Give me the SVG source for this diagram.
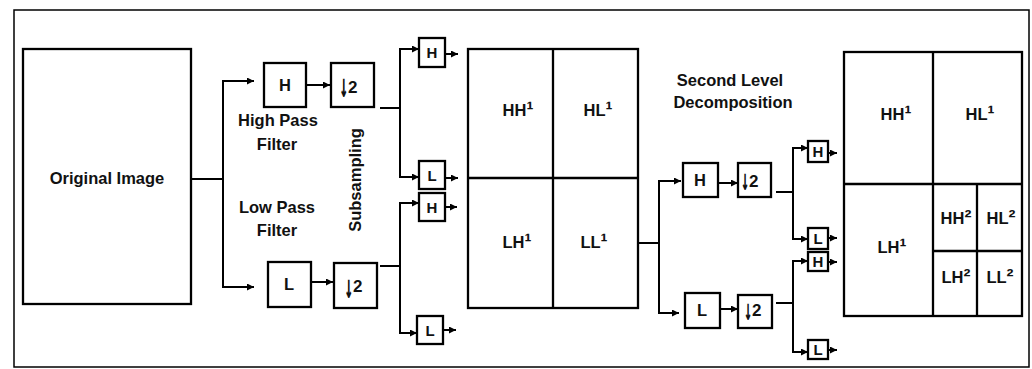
<svg xmlns="http://www.w3.org/2000/svg" width="1032" height="369" viewBox="0 0 1032 369">
  <defs>
    <marker id="arrow" markerUnits="userSpaceOnUse" markerWidth="8" markerHeight="8" refX="7" refY="3.5" orient="auto">
      <path d="M0,0 L7,3.5 L0,7 z" fill="#000"/>
    </marker>
    <style>
      .box { fill: #fff; stroke: #000; stroke-width: 2.3; }
      .cell { fill: none; stroke: #000; stroke-width: 2.3; }
      .wire { fill: none; stroke: #000; stroke-width: 2; }
      .arr { fill: none; stroke: #000; stroke-width: 2; marker-end: url(#arrow); }
      .lbl { font-family: "Liberation Sans", Arial, sans-serif; font-weight: bold; font-size: 16.5px; fill: #111; text-anchor: middle; }
      .sm { font-size: 15px; }
      .sup { font-size: 21px; }
      .two { font-family: "Liberation Sans", Arial, sans-serif; font-weight: bold; font-size: 17px; fill: #111; }
      .dn { font-family: "DejaVu Sans Mono", monospace; font-weight: bold; font-size: 19px; fill: #111; text-anchor: end; }
    </style>
  </defs>

  <rect x="0" y="0" width="1032" height="369" fill="#fff"/>
  <!-- outer frame -->
  <rect x="14" y="10" width="1015" height="357" fill="none" stroke="#000" stroke-width="1.5"/>

  <!-- source image -->
  <g id="original">
    <rect class="box" x="23" y="49" width="168" height="255"/>
    <text class="lbl" x="107" y="184">Original Image</text>
  </g>

  <!-- first level filters -->
  <g id="hpf1">
    <rect class="box" x="264" y="63" width="42" height="44"/>
    <text class="lbl" x="285" y="91">H</text>
  </g>
  <g id="ds1h">
    <rect class="box" x="331" y="63" width="43" height="44"/>
    <text class="dn" transform="translate(348,97) scale(0.75,1.8)">↓</text>
    <text class="two" x="348" y="93">2</text>
  </g>
  <g id="lpf1">
    <rect class="box" x="268" y="262" width="43" height="45"/>
    <text class="lbl" x="289" y="290">L</text>
  </g>
  <g id="ds1l">
    <rect class="box" x="334" y="263" width="43" height="45"/>
    <text class="dn" transform="translate(353,298) scale(0.75,1.8)">↓</text>
    <text class="two" x="353" y="292">2</text>
  </g>
  <g id="labels1">
    <text class="lbl" x="278" y="126">High Pass</text>
    <text class="lbl" x="277" y="150">Filter</text>
    <text class="lbl" x="277" y="213">Low Pass</text>
    <text class="lbl" x="277" y="236">Filter</text>
    <text class="lbl" transform="translate(361,180) rotate(-90)">Subsampling</text>
  </g>

  <!-- first level outputs -->
  <g id="out1hh">
    <rect class="box" x="419" y="38" width="26" height="29"/>
    <text class="lbl sm" x="432" y="58">H</text>
  </g>
  <g id="out1hl">
    <rect class="box" x="419" y="161" width="26" height="28"/>
    <text class="lbl sm" x="432" y="181">L</text>
  </g>
  <g id="out1lh">
    <rect class="box" x="419" y="193" width="26" height="28"/>
    <text class="lbl sm" x="432" y="213">H</text>
  </g>
  <g id="out1ll">
    <rect class="box" x="417" y="316" width="26" height="28"/>
    <text class="lbl sm" x="430" y="336">L</text>
  </g>

  <!-- first level decomposition -->
  <g id="level1">
    <rect class="cell" x="468" y="49" width="170" height="259"/>
    <line class="cell" x1="553" y1="49" x2="553" y2="308"/>
    <line class="cell" x1="468" y1="178" x2="638" y2="178"/>
    <text class="lbl" x="518" y="116">HH<tspan class="sup">¹</tspan></text>
    <text class="lbl" x="598" y="116">HL<tspan class="sup">¹</tspan></text>
    <text class="lbl" x="517" y="248">LH<tspan class="sup">¹</tspan></text>
    <text class="lbl" x="594" y="248">LL<tspan class="sup">¹</tspan></text>
  </g>

  <g id="title2">
    <text class="lbl" x="730" y="86">Second Level</text>
    <text class="lbl" x="733" y="108">Decomposition</text>
  </g>

  <!-- second level filters -->
  <g id="hpf2">
    <rect class="box" x="683" y="163" width="35" height="34"/>
    <text class="lbl" x="700" y="186">H</text>
  </g>
  <g id="ds2h">
    <rect class="box" x="738" y="163" width="33" height="34"/>
    <text class="dn" transform="translate(749,190) scale(0.7,1.6)">↓</text>
    <text class="two" x="749" y="187">2</text>
  </g>
  <g id="lpf2">
    <rect class="box" x="685" y="293" width="35" height="35"/>
    <text class="lbl" x="702" y="316">L</text>
  </g>
  <g id="ds2l">
    <rect class="box" x="738" y="295" width="34" height="33"/>
    <text class="dn" transform="translate(752,320) scale(0.7,1.6)">↓</text>
    <text class="two" x="752" y="316">2</text>
  </g>

  <!-- second level outputs -->
  <g id="out2hh">
    <rect class="box" x="808" y="141" width="20" height="21"/>
    <text class="lbl sm" x="818" y="157">H</text>
  </g>
  <g id="out2hl">
    <rect class="box" x="808" y="228" width="20" height="21"/>
    <text class="lbl sm" x="818" y="244">L</text>
  </g>
  <g id="out2lh">
    <rect class="box" x="808" y="252" width="20" height="19"/>
    <text class="lbl sm" x="818" y="267">H</text>
  </g>
  <g id="out2ll">
    <rect class="box" x="808" y="340" width="20" height="19"/>
    <text class="lbl sm" x="818" y="355">L</text>
  </g>

  <!-- second level decomposition -->
  <g id="level2">
    <rect class="cell" x="844" y="52" width="178" height="264"/>
    <line class="cell" x1="933" y1="52" x2="933" y2="316"/>
    <line class="cell" x1="844" y1="184" x2="1022" y2="184"/>
    <line class="cell" x1="977" y1="184" x2="977" y2="316"/>
    <line class="cell" x1="933" y1="251" x2="1022" y2="251"/>
    <text class="lbl" x="896" y="120">HH<tspan class="sup">¹</tspan></text>
    <text class="lbl" x="980" y="120">HL<tspan class="sup">¹</tspan></text>
    <text class="lbl" x="892" y="253">LH<tspan class="sup">¹</tspan></text>
    <text class="lbl" x="956" y="224">HH<tspan class="sup">²</tspan></text>
    <text class="lbl" x="1001" y="224">HL<tspan class="sup">²</tspan></text>
    <text class="lbl" x="956" y="283">LH<tspan class="sup">²</tspan></text>
    <text class="lbl" x="1000" y="283">LL<tspan class="sup">²</tspan></text>
  </g>

  <!-- connectors -->
  <g id="connectors">
    <polyline class="wire" points="191,179 223,179"/>
    <polyline class="wire" points="223,80 223,288"/>
    <line class="arr" x1="222" y1="81" x2="254" y2="81"/>
    <line class="arr" x1="222" y1="287" x2="254" y2="287"/>
    <line class="arr" x1="306" y1="85" x2="330" y2="85"/>
    <line class="arr" x1="311" y1="282" x2="333" y2="282"/>

    <line class="wire" x1="380" y1="108" x2="400" y2="108"/>
    <line class="wire" x1="400" y1="48" x2="400" y2="178"/>
    <line class="arr" x1="399" y1="49" x2="419" y2="49"/>
    <line class="arr" x1="399" y1="177" x2="419" y2="177"/>
    <line class="arr" x1="445" y1="54" x2="458" y2="54"/>
    <line class="arr" x1="445" y1="178" x2="458" y2="178"/>

    <line class="wire" x1="380" y1="266" x2="400" y2="266"/>
    <line class="wire" x1="400" y1="202" x2="400" y2="334"/>
    <line class="arr" x1="399" y1="203" x2="419" y2="203"/>
    <line class="arr" x1="399" y1="333" x2="417" y2="333"/>
    <line class="arr" x1="445" y1="207" x2="457" y2="207"/>
    <line class="arr" x1="443" y1="330" x2="456" y2="330"/>

    <line class="wire" x1="638" y1="243" x2="659" y2="243" stroke-width="2.5"/>
    <line class="wire" x1="659" y1="180" x2="659" y2="314"/>
    <line class="arr" x1="658" y1="181" x2="681" y2="181"/>
    <line class="arr" x1="658" y1="313" x2="679" y2="313"/>
    <line class="arr" x1="718" y1="183" x2="738" y2="183"/>
    <line class="arr" x1="720" y1="309" x2="738" y2="309"/>

    <line class="wire" x1="776" y1="192" x2="793" y2="192"/>
    <line class="wire" x1="793" y1="147" x2="793" y2="240"/>
    <line class="arr" x1="792" y1="148" x2="808" y2="148"/>
    <line class="arr" x1="792" y1="239" x2="808" y2="239"/>
    <line class="arr" x1="828" y1="153" x2="837" y2="153"/>
    <line class="arr" x1="828" y1="238" x2="837" y2="238"/>

    <line class="wire" x1="776" y1="303" x2="793" y2="303"/>
    <line class="wire" x1="793" y1="260" x2="793" y2="353"/>
    <line class="arr" x1="792" y1="261" x2="808" y2="261"/>
    <line class="arr" x1="792" y1="352" x2="808" y2="352"/>
    <line class="arr" x1="828" y1="262" x2="837" y2="262"/>
    <line class="arr" x1="828" y1="350" x2="837" y2="350"/>
  </g>
</svg>
